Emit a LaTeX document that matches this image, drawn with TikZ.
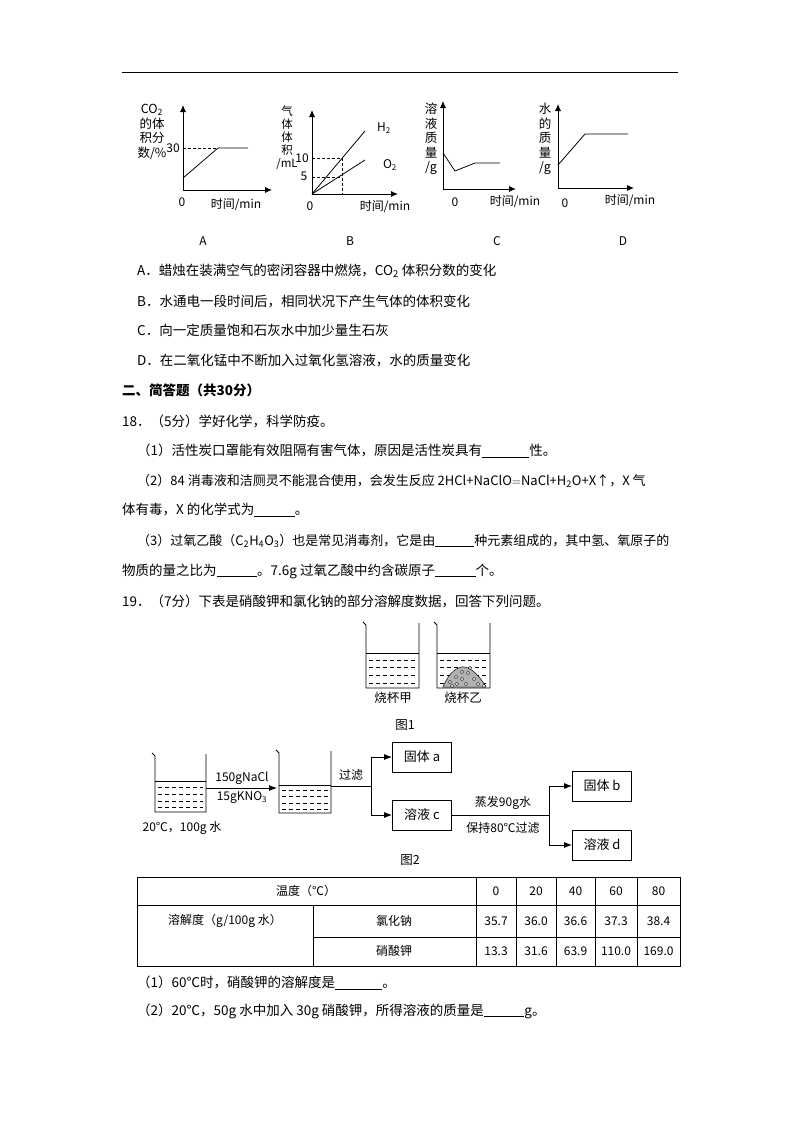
\documentclass[tikz,border=0pt]{standalone}
\usepackage{fontspec}
\setmainfont{Noto Sans CJK SC}
\usetikzlibrary{arrows.meta}
\newcommand\ul[1]{\underline{\hspace{#1}}}
\tikzset{
  ax/.style={line width=0.9pt,-{Latex[length=7pt,width=6pt]}},
  crv/.style={line width=0.8pt},
  dsh/.style={dash pattern=on 3pt off 2pt,line width=0.8pt},
  txt/.style={anchor=west,inner sep=0pt,font=\fontsize{13.5}{15}\selectfont},
  sm/.style={inner sep=0pt,font=\fontsize{12}{13}\selectfont},
  vl/.style={inner sep=0pt,font=\fontsize{12.5}{14.5}\selectfont,align=center},
  box/.style={draw,line width=0.8pt,minimum width=59pt,minimum height=30pt,inner sep=0pt,font=\fontsize{13}{14}\selectfont},
  arr/.style={line width=0.9pt,-{Latex[length=8pt,width=6pt]}},
  pics/beaker/.style args={#1/#2/#3}{code={
    \draw[line width=0.8pt] (-3,-3) -- (0,0) -- (0,#2) -- (#1,#2) -- (#1,-2);
    \draw[line width=0.6pt] (0,#3) -- (#1,#3);
    \foreach \yy in {0.2,0.42,0.64,0.86}{
      \draw[line width=0.6pt,dash pattern=on 4pt off 3pt] (3,{#3+(#2-#3)*\yy}) -- ({#1-3},{#3+(#2-#3)*\yy});}
  }}
}
\begin{document}
\begin{tikzpicture}[x=1pt,y=-1pt]
\useasboundingbox (0,0) rectangle (800,1132);
\fill[white] (0,0) rectangle (800,1132);
\draw[line width=0.8pt] (122,72) -- (678,72);
% Graph A
\coordinate (oA) at (183,190);
\draw[ax] (oA) -- (183,105);
\draw[ax] (oA) -- (272,190);
\draw[crv] (183,178) -- (218,148) -- (248,148);
\draw[dsh] (183,148) -- (218,148);
\node[sm] (a30) at (173,148) {30};
\node[vl,anchor=north] (aL) at (152,104) {CO\textsubscript{2}\\的体\\积分\\数/\%};
\node[sm] (a0) at (182,202) {0};
\node[sm] (at) at (236,205) {时间/min};
% Graph B
\coordinate (oB) at (312,194);
\draw[ax] (oB) -- (312,110);
\draw[ax] (oB) -- (398,194);
\draw[crv] (oB) -- (365,131);
\draw[crv] (oB) -- (365,160);
\draw[dsh] (312,158) -- (342,158) -- (342,194);
\draw[dsh] (312,177) -- (342,177);
\node[sm] (b10) at (302,158) {10};
\node[sm] (b5) at (304,176) {5};
\node[sm] (bH) at (384,128) {H\textsubscript{2}};
\node[sm] (bO) at (390,165) {O\textsubscript{2}};
\node[vl,anchor=north,font=\fontsize{11.5}{13}\selectfont] (bL) at (287,106) {气\\体\\体\\积\\/mL};
\node[sm] (b0) at (310,206) {0};
\node[sm] (bt) at (385,207) {时间/min};
% Graph C
\coordinate (oC) at (443,189);
\draw[ax] (oC) -- (443,101);
\draw[ax] (oC) -- (516,189);
\draw[crv] (443,153) -- (455,171) -- (475,163) -- (500,163);
\node[vl,anchor=north] (cL) at (431,103) {溶\\液\\质\\量\\/g};
\node[sm] (c0) at (455,202) {0};
\node[sm] (ct) at (515,202) {时间/min};
% Graph D
\coordinate (oD) at (558,188);
\draw[ax] (oD) -- (558,104);
\draw[ax] (oD) -- (634,188);
\draw[crv] (558,165) -- (585,134) -- (628,134);
\node[vl,anchor=north] (dL) at (545,103) {水\\的\\质\\量\\/g};
\node[sm] (d0) at (565,203) {0};
\node[sm] (dt) at (630,201) {时间/min};
% letters
\node[sm] (LA) at (203,241) {A};
\node[sm] (LB) at (350,241) {B};
\node[sm] (LC) at (497,241) {C};
\node[sm] (LD) at (623,241) {D};
% text
\node[txt] (t1) at (137,271) {A．蜡烛在装满空气的密闭容器中燃烧，CO\textsubscript{2} 体积分数的变化};
\node[txt] (t2) at (137,301) {B．水通电一段时间后，相同状况下产生气体的体积变化};
\node[txt] (t3) at (137,330) {C．向一定质量饱和石灰水中加少量生石灰};
\node[txt] (t4) at (137,360) {D．在二氧化锰中不断加入过氧化氢溶液，水的质量变化};
\node[txt,font=\fontsize{13.5}{15}\selectfont\bfseries] (t5) at (122,390) {二、简答题（共30分）};
\node[txt] (t6) at (122,421) {18．（5分）学好化学，科学防疫。};
\node[txt] (t7) at (137,451) {（1）活性炭口罩能有效阻隔有害气体，原因是活性炭具有\ul{3.5em}性。};
\node[txt,font=\fontsize{13}{15}\selectfont] (t8) at (137,481) {（2）84 消毒液和洁厕灵不能混合使用，会发生反应 2HCl+NaClO$=$NaCl+H\textsubscript{2}O+X↑，X 气};
\node[txt] (t9) at (122,510) {体有毒，X 的化学式为\ul{3em}。};
\node[txt,font=\fontsize{13}{15}\selectfont] (t10) at (137,541) {（3）过氧乙酸（C\textsubscript{2}H\textsubscript{4}O\textsubscript{3}）也是常见消毒剂，它是由\ul{3em}种元素组成的，其中氢、氧原子的};
\node[txt] (t11) at (122,571) {物质的量之比为\ul{3em}。7.6g 过氧乙酸中约含碳原子\ul{3em}个。};
\node[txt] (t12) at (122,601) {19．（7分）下表是硝酸钾和氯化钠的部分溶解度数据，回答下列问题。};
% Figure 1
\pic (bk1) at (366,625) {beaker={53/63/28}};
\pic (bk2) at (437,625) {beaker={53/63/28}};
\path[fill=gray!60,draw=black,line width=0.5pt] (443,687) .. controls (449,672) and (458,666) .. (465,667) .. controls (474,669) and (482,680) .. (486,687) -- cycle;
\foreach \px/\py in {450/682,456/677,462/672,468/673,474/679,457/684,466/684,478/684,462/679,470/668,452/686,484/686}{
  \draw[line width=0.4pt,fill=white] (\px,\py) circle (1.6pt);}
\node[vl] (f1a) at (393,698) {烧杯甲};
\node[vl] (f1b) at (463,698) {烧杯乙};
\node[vl] (f1) at (405,725) {图1};
% Figure 2
\pic (bk3) at (155,756) {beaker={51/56/25}};
\pic (bk4) at (279,753) {beaker={52/60/32}};
\coordinate (s1) at (206,788);
\coordinate (e1) at (277,788);
\draw[arr] (s1) -- (e1);
\node[sm] (n1) at (242,778) {150gNaCl};
\node[sm] (n2) at (242,798) {15gKNO\textsubscript{3}};
\node[sm] (n3) at (182,828) {20℃，100g 水};
\node[box] (ba) at (422,757) {固体 a};
\node[box] (bc) at (422,815) {溶液 c};
\node[box] (bb) at (602,786) {固体 b};
\node[box] (bd) at (602,845) {溶液 d};
\coordinate (j1) at (371,786);
\draw[line width=0.8pt] (331,786) -- (j1);
\draw[arr] (j1) |- (ba.west);
\draw[arr] (j1) |- (bc.west);
\node[sm] (n4) at (351,775) {过滤};
\coordinate (j2) at (549,815);
\draw[line width=0.8pt] (bc.east) -- (j2);
\draw[arr] (j2) |- (bb.west);
\draw[arr] (j2) |- (bd.west);
\node[sm] (n5) at (503,803) {蒸发90g水};
\node[sm] (n6) at (503,828) {保持80℃过滤};
\node[vl] (f2) at (410,860) {图2};
% Table
\draw[line width=0.7pt] (137,877) rectangle (680,966);
\draw[line width=0.7pt] (137,905) -- (680,905);
\draw[line width=0.7pt] (313,937) -- (680,937);
\draw[line width=0.7pt] (313,905) -- (313,966);
\foreach \cx in {476,516,556,595,637}{\draw[line width=0.7pt] (\cx,877) -- (\cx,966);}
\node[sm] (h0) at (306,891) {温度（℃）};
\node[sm] (h1) at (225,921) {溶解度（g/100g 水）};
\node[sm] (h2) at (394,921) {氯化钠};
\node[sm] (h3) at (394,951) {硝酸钾};
\foreach \cx/\a/\b/\c [count=\i] in {496/0/35.7/13.3,536/20/36.0/31.6,575.5/40/36.6/63.9,616/60/37.3/110.0,658.5/80/38.4/169.0}{
  \node[sm] (r1\i) at (\cx,891) {\a};
  \node[sm] (r2\i) at (\cx,921) {\b};
  \node[sm] (r3\i) at (\cx,951) {\c};}
\node[txt] (q1) at (137,983) {（1）60℃时，硝酸钾的溶解度是\ul{3.5em}。};
\node[txt] (q2) at (137,1011) {（2）20℃，50g 水中加入 30g 硝酸钾，所得溶液的质量是\ul{3em}g。};
\end{tikzpicture}
\end{document}
